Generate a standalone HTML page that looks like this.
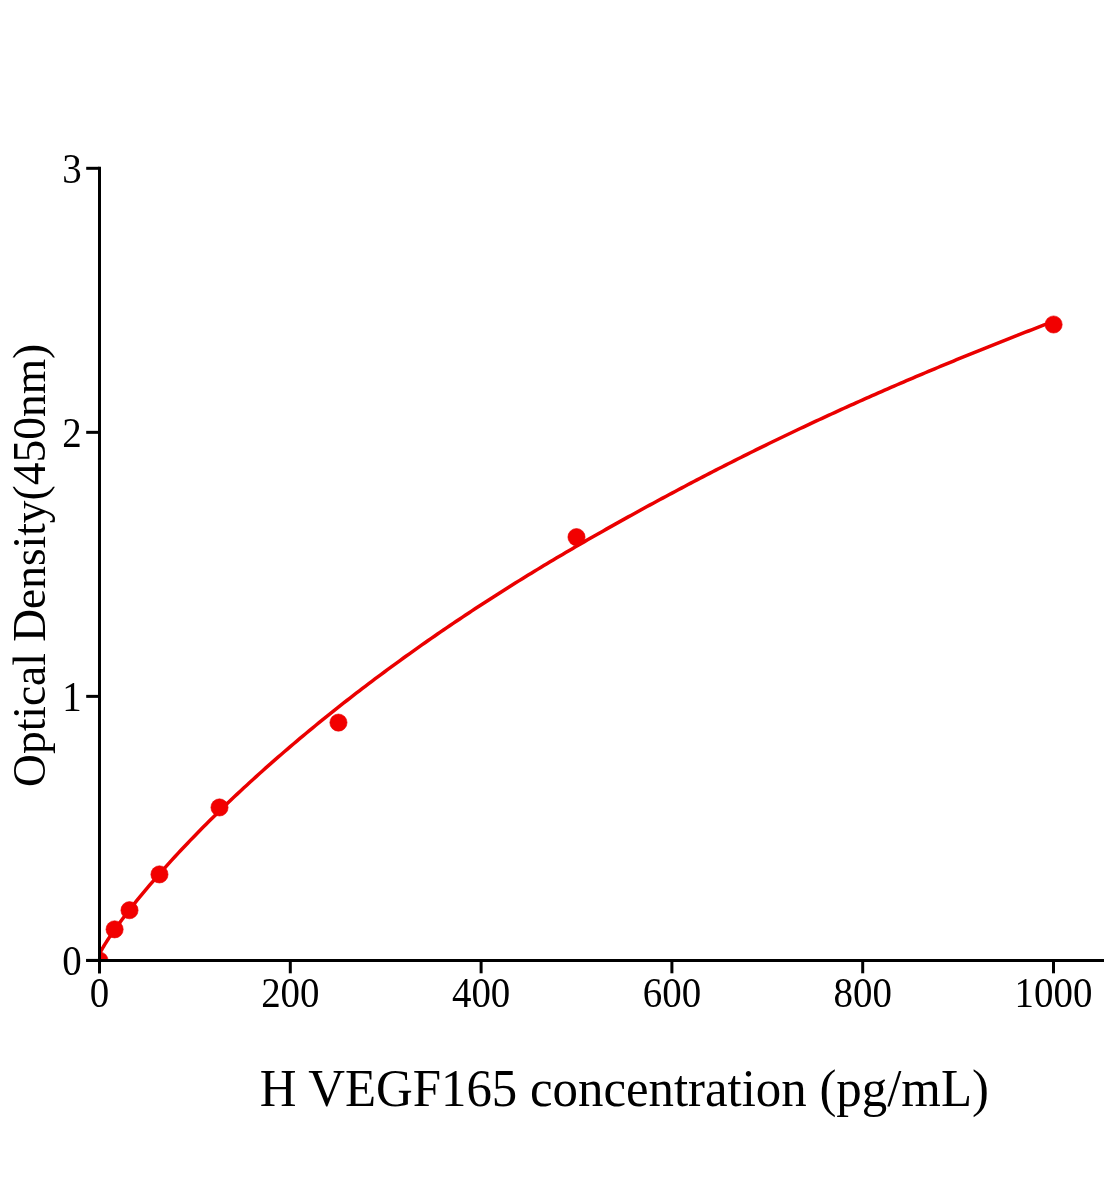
<!DOCTYPE html>
<html><head><meta charset="utf-8"><title>Chart</title>
<style>
html,body{margin:0;padding:0;background:#fff;}
body{width:1104px;height:1200px;overflow:hidden;font-family:"Liberation Serif",serif;}
svg{display:block;will-change:transform;}
text{font-family:"Liberation Serif",serif;fill:#000;}
</style></head><body>
<svg width="1104" height="1200" viewBox="0 0 1104 1200">
<rect width="1104" height="1200" fill="#fff"/>
<defs><clipPath id="plot"><rect x="99.5" y="0" width="1010" height="960.4"/></clipPath></defs>
<g clip-path="url(#plot)">
<polyline points="99.50,954.20 99.82,953.38 100.15,952.68 100.47,952.03 100.79,951.40 101.12,950.79 101.44,950.19 101.76,949.61 102.09,949.03 102.41,948.46 102.73,947.90 103.06,947.35 103.38,946.80 103.70,946.26 104.03,945.72 104.35,945.19 104.67,944.66 105.00,944.14 105.32,943.62 105.64,943.11 105.97,942.59 106.29,942.08 106.61,941.58 106.94,941.07 107.26,940.57 107.58,940.07 107.91,939.58 108.23,939.08 108.55,938.59 108.88,938.10 109.20,937.62 109.53,937.13 109.85,936.65 110.17,936.17 110.50,935.69 110.82,935.21 111.14,934.74 111.47,934.27 111.79,933.80 112.11,933.33 112.44,932.86 112.76,932.39 113.08,931.93 113.41,931.46 113.73,931.00 114.05,930.54 114.38,930.08 114.70,929.62 115.02,929.17 115.35,928.71 115.67,928.26 115.99,927.80 116.32,927.35 116.64,926.90 116.96,926.45 117.29,926.00 117.61,925.56 117.93,925.11 118.26,924.67 118.58,924.22 121.71,919.99 124.83,915.84 127.96,911.77 131.09,907.77 134.21,903.83 137.34,899.95 140.47,896.12 143.59,892.34 146.72,888.61 149.85,884.92 152.98,881.28 156.10,877.67 159.23,874.10 162.36,870.57 165.48,867.07 168.61,863.60 171.74,860.16 174.86,856.76 177.99,853.39 181.12,850.04 184.24,846.72 187.37,843.43 190.50,840.16 193.62,836.92 196.75,833.71 199.88,830.51 203.00,827.35 206.13,824.20 209.26,821.08 212.38,817.98 215.51,814.89 218.64,811.83 221.77,808.80 224.89,805.78 228.02,802.78 231.15,799.80 234.27,796.83 237.40,793.89 240.53,790.96 243.65,788.06 246.78,785.17 249.91,782.29 253.03,779.44 256.16,776.60 259.29,773.77 262.41,770.97 265.54,768.18 268.67,765.40 271.79,762.64 274.92,759.89 278.05,757.16 281.17,754.45 284.30,751.75 287.43,749.06 290.56,746.39 293.68,743.73 296.81,741.08 299.94,738.45 303.06,735.83 306.19,733.23 309.32,730.64 312.44,728.06 315.57,725.49 318.70,722.94 321.82,720.40 324.95,717.87 328.08,715.35 331.20,712.85 334.33,710.35 337.46,707.87 340.58,705.40 343.71,702.95 346.84,700.50 349.96,698.06 353.09,695.64 356.22,693.23 359.35,690.82 362.47,688.43 365.60,686.05 368.73,683.68 371.85,681.32 374.98,678.97 378.11,676.64 381.23,674.31 384.36,671.99 387.49,669.68 390.61,667.38 393.74,665.09 396.87,662.82 399.99,660.55 403.12,658.29 406.25,656.04 409.37,653.80 412.50,651.57 415.63,649.34 418.75,647.13 421.88,644.93 425.01,642.74 428.14,640.55 431.26,638.38 434.39,636.21 437.52,634.05 440.64,631.90 443.77,629.76 446.90,627.63 450.02,625.51 453.15,623.39 456.28,621.29 459.40,619.19 462.53,617.10 465.66,615.02 468.78,612.95 471.91,610.89 475.04,608.83 478.16,606.78 481.29,604.74 484.42,602.71 487.55,600.69 490.67,598.68 493.80,596.67 496.93,594.67 500.05,592.68 503.18,590.70 506.31,588.72 509.43,586.75 512.56,584.79 515.69,582.84 518.81,580.89 521.94,578.95 525.07,577.02 528.19,575.10 531.32,573.18 534.45,571.28 537.57,569.37 540.70,567.48 543.83,565.59 546.95,563.71 550.08,561.83 553.21,559.96 556.34,558.10 559.46,556.25 562.59,554.40 565.72,552.56 568.84,550.72 571.97,548.89 575.10,547.07 578.22,545.25 581.35,543.44 584.48,541.63 587.60,539.83 590.73,538.03 593.86,536.24 596.98,534.46 600.11,532.68 603.24,530.91 606.36,529.14 609.49,527.37 612.62,525.62 615.74,523.86 618.87,522.11 622.00,520.37 625.13,518.63 628.25,516.90 631.38,515.17 634.51,513.44 637.63,511.72 640.76,510.01 643.89,508.30 647.01,506.59 650.14,504.89 653.27,503.19 656.39,501.50 659.52,499.81 662.65,498.12 665.77,496.44 668.90,494.77 672.03,493.10 675.15,491.43 678.28,489.77 681.41,488.11 684.53,486.46 687.66,484.81 690.79,483.16 693.92,481.52 697.04,479.89 700.17,478.26 703.30,476.63 706.42,475.01 709.55,473.39 712.68,471.78 715.80,470.17 718.93,468.56 722.06,466.97 725.18,465.37 728.31,463.78 731.44,462.20 734.56,460.62 737.69,459.04 740.82,457.47 743.94,455.91 747.07,454.35 750.20,452.79 753.33,451.24 756.45,449.69 759.58,448.15 762.71,446.61 765.83,445.08 768.96,443.55 772.09,442.03 775.21,440.51 778.34,439.00 781.47,437.49 784.59,435.99 787.72,434.49 790.85,432.99 793.97,431.50 797.10,430.02 800.23,428.54 803.35,427.06 806.48,425.59 809.61,424.13 812.73,422.66 815.86,421.20 818.99,419.75 822.12,418.30 825.24,416.86 828.37,415.42 831.50,413.98 834.62,412.55 837.75,411.12 840.88,409.70 844.00,408.28 847.13,406.86 850.26,405.45 853.38,404.04 856.51,402.64 859.64,401.24 862.76,399.85 865.89,398.46 869.02,397.07 872.14,395.69 875.27,394.31 878.40,392.93 881.52,391.56 884.65,390.19 887.78,388.83 890.91,387.47 894.03,386.11 897.16,384.76 900.29,383.41 903.41,382.06 906.54,380.72 909.67,379.38 912.79,378.05 915.92,376.71 919.05,375.39 922.17,374.06 925.30,372.74 928.43,371.42 931.55,370.11 934.68,368.80 937.81,367.49 940.93,366.19 944.06,364.89 947.19,363.59 950.31,362.30 953.44,361.01 956.57,359.72 959.70,358.44 962.82,357.16 965.95,355.88 969.08,354.61 972.20,353.33 975.33,352.07 978.46,350.80 981.58,349.54 984.71,348.28 987.84,347.03 990.96,345.78 994.09,344.53 997.22,343.28 1000.34,342.04 1003.47,340.80 1006.60,339.57 1009.72,338.33 1012.85,337.10 1015.98,335.88 1019.10,334.65 1022.23,333.43 1025.36,332.22 1028.49,331.00 1031.61,329.79 1034.74,328.58 1037.87,327.37 1040.99,326.17 1044.12,324.97 1047.25,323.77 1050.37,322.58 1053.50,321.39" fill="none" stroke="#ea0000" stroke-width="3.5" stroke-linejoin="round"/>
<g fill="#f20000" stroke="#e40000" stroke-width="0.6"><circle cx="99.50" cy="960.50" r="8.6"/><circle cx="114.60" cy="929.35" r="8.6"/><circle cx="129.50" cy="910.20" r="8.6"/><circle cx="159.46" cy="874.40" r="8.6"/><circle cx="219.50" cy="807.45" r="8.6"/><circle cx="338.45" cy="722.60" r="8.6"/><circle cx="576.50" cy="537.10" r="8.6"/><circle cx="1053.60" cy="324.50" r="8.6"/></g>
</g>
<g stroke="#000" stroke-width="3" fill="none">
<line x1="99.5" y1="166.81" x2="99.5" y2="973.3"/>
<line x1="86.2" y1="960.4" x2="1104" y2="960.4"/>
<line x1="99.50" y1="960.40" x2="99.50" y2="973.3"/><line x1="290.30" y1="960.40" x2="290.30" y2="973.3"/><line x1="481.10" y1="960.40" x2="481.10" y2="973.3"/><line x1="671.90" y1="960.40" x2="671.90" y2="973.3"/><line x1="862.70" y1="960.40" x2="862.70" y2="973.3"/><line x1="1053.50" y1="960.40" x2="1053.50" y2="973.3"/><line x1="86.2" y1="960.40" x2="99.5" y2="960.40"/><line x1="86.2" y1="696.37" x2="99.5" y2="696.37"/><line x1="86.2" y1="432.34" x2="99.5" y2="432.34"/><line x1="86.2" y1="168.31" x2="99.5" y2="168.31"/>
</g>
<g font-size="41.4"><text transform="translate(99.50,1007.4) scale(0.940,1)" text-anchor="middle">0</text><text transform="translate(290.30,1007.4) scale(0.940,1)" text-anchor="middle">200</text><text transform="translate(481.10,1007.4) scale(0.940,1)" text-anchor="middle">400</text><text transform="translate(671.90,1007.4) scale(0.940,1)" text-anchor="middle">600</text><text transform="translate(862.70,1007.4) scale(0.940,1)" text-anchor="middle">800</text><text transform="translate(1053.50,1007.4) scale(0.940,1)" text-anchor="middle">1000</text><text transform="translate(81.7,974.70) scale(0.940,1)" text-anchor="end">0</text><text transform="translate(81.7,710.67) scale(0.940,1)" text-anchor="end">1</text><text transform="translate(81.7,446.64) scale(0.940,1)" text-anchor="end">2</text><text transform="translate(81.7,182.61) scale(0.940,1)" text-anchor="end">3</text></g>
<text transform="translate(624.3,1105.6) scale(0.978,1)" font-size="52" text-anchor="middle">H VEGF165 concentration (pg/mL)</text>
<text transform="translate(44.8,565.4) rotate(-90) scale(0.997,1)" font-size="45.6" text-anchor="middle">Optical Density(450nm)</text>
</svg>
</body></html>
